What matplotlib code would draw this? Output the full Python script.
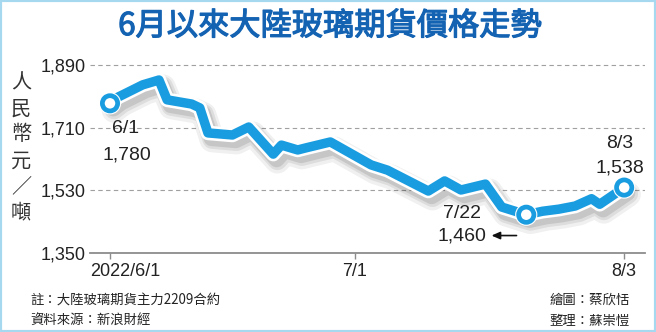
import matplotlib
matplotlib.use("Agg")
import matplotlib.pyplot as plt
import matplotlib.patheffects as pe
from matplotlib.patches import Rectangle
from matplotlib.transforms import offset_copy
import pandas as pd

plt.rcParams['font.family'] = ['Noto Sans CJK TC', 'DejaVu Sans']

# Daily price points of the glass futures main contract (RMB / ton)
dates = ["2022-06-01", "2022-06-02", "2022-06-05", "2022-06-07", "2022-06-08",
         "2022-06-11", "2022-06-12", "2022-06-13", "2022-06-16", "2022-06-18",
         "2022-06-21", "2022-06-22", "2022-06-24", "2022-06-25", "2022-06-28",
         "2022-07-03", "2022-07-05", "2022-07-10", "2022-07-12", "2022-07-14",
         "2022-07-17", "2022-07-19", "2022-07-22", "2022-07-24", "2022-07-26",
         "2022-07-28", "2022-07-30", "2022-07-31", "2022-08-03"]
prices = [1780, 1798, 1833, 1847, 1790,
          1778, 1767, 1695, 1689, 1712,
          1634, 1660, 1646, 1652, 1669,
          1603, 1588, 1528, 1557, 1531,
          1548, 1482, 1460, 1470, 1476,
          1485, 1506, 1490, 1538]

y_ticks = [1350, 1530, 1710, 1890]
x_tick_dates = ["2022-06-01", "2022-07-01", "2022-08-03"]
x_tick_labels = ["2022/6/1", "7/1", "8/3"]

# highlighted points: (date, date label)
highlights = [("2022-06-01", "6/1"), ("2022-07-22", "7/22"), ("2022-08-03", "8/3")]

title = "6月以來大陸玻璃期貨價格走勢"
y_label = "人\n民\n幣\n元\n／\n噸"
note_left = ["註：大陸玻璃期貨主力2209合約", "資料來源：新浪財經"]
note_right = ["繪圖：蔡欣恬", "整理：蘇崇愷"]

LINE = "#1a9de0"
TITLE_C = "#1463b3"
TEXT_C = "#222222"
NUM_FONT = ['Liberation Sans']

W, H = 656, 332
fig = plt.figure(figsize=(W / 100, H / 100), dpi=100)
fig.patch.set_facecolor("white")

ax = fig.add_axes([90 / W, 1 - 253 / H, (645 - 90) / W, (253 - 62) / H])

origin = pd.Timestamp("2022-06-01")
def to_day(d):
    return (pd.Timestamp(d) - origin).days

days = [to_day(d) for d in dates]
price_of = dict(zip(dates, prices))

ax.set_xlim(-2.45, 65.55)
ax.set_ylim(1350, 1898.7)

# grid and axes
ax.set_yticks(y_ticks)
ax.set_yticklabels([f"{v:,}" for v in y_ticks], fontsize=13, color=TEXT_C,
                   family=NUM_FONT)
ax.tick_params(axis='y', length=0, pad=3)
ax.grid(axis='y', linestyle=(0, (4, 3)), color='#a0a0a0', linewidth=0.8)
ax.set_axisbelow(True)
for s in ("top", "right", "left"):
    ax.spines[s].set_visible(False)
ax.spines["bottom"].set_color("#8c8c8c")
ax.spines["bottom"].set_linewidth(1.3)

ax.set_xticks([to_day(d) for d in x_tick_dates])
ax.set_xticklabels([])
ax.tick_params(axis='x', length=4, width=1, color="#8c8c8c", direction='out')
x_shift = [11, 0, 0]
for d, lab, dx in zip(x_tick_dates, x_tick_labels, x_shift):
    ax.annotate(lab, xy=(to_day(d), 0), xycoords=('data', 'axes fraction'),
                xytext=(dx, -13.5), textcoords='offset points',
                ha='center', va='center', fontsize=13, color=TEXT_C,
                family=NUM_FONT)

# price line with white halo and soft shadow
effects = [
    pe.SimpleLineShadow(offset=(3, -5), shadow_color='k', alpha=0.06, linewidth=18),
    pe.SimpleLineShadow(offset=(3, -4.5), shadow_color='k', alpha=0.08, linewidth=14),
    pe.SimpleLineShadow(offset=(2.5, -4), shadow_color='k', alpha=0.10, linewidth=11),
    pe.Stroke(linewidth=10.5, foreground='white'),
    pe.Normal(),
]
ax.plot(days, prices, color=LINE, linewidth=6.8, solid_joinstyle='round',
        solid_capstyle='round', path_effects=effects, clip_on=False, zorder=3)

hx = [to_day(d) for d, _ in highlights]
hy = [price_of[d] for d, _ in highlights]
ax.plot(hx, hy, linestyle='none', marker='o', markersize=11,
        markerfacecolor='white', markeredgecolor=LINE, markeredgewidth=3.4,
        path_effects=[pe.Stroke(linewidth=5, foreground='white'), pe.Normal()],
        clip_on=False, zorder=4)

# point labels (offsets in points from each highlighted point)
label_offsets = {
    "6/1": [(11, -18), (12, -37)],
    "7/22": [(-46, 1), (-46, -15)],
    "8/3": [(-3, 32), (-3, 14)],
}
for d, lab in highlights:
    v = price_of[d]
    (dx1, dy1), (dx2, dy2) = label_offsets[lab]
    ax.annotate(lab, xy=(to_day(d), v), xytext=(dx1, dy1), textcoords='offset points',
                ha='center', va='center', fontsize=14, color=TEXT_C,
                family=NUM_FONT, zorder=5)
    ax.annotate(f"{v:,}", xy=(to_day(d), v), xytext=(dx2, dy2), textcoords='offset points',
                ha='center', va='center', fontsize=14, color=TEXT_C,
                family=NUM_FONT, zorder=5)

# arrow from the low point toward its value label
low_d = highlights[1][0]
low_x, low_v = to_day(low_d), price_of[low_d]
head_t = offset_copy(ax.transData, fig=fig, x=-25, y=-15, units='points')
tail_t = offset_copy(ax.transData, fig=fig, x=-7, y=-15, units='points')
ax.annotate("", xy=(low_x, low_v), xycoords=head_t,
            xytext=(low_x, low_v), textcoords=tail_t, zorder=5,
            arrowprops=dict(arrowstyle='-|>,head_length=0.5,head_width=0.22',
                            color='#111111', lw=1.2, shrinkA=0, shrinkB=0))

# titles and notes
fig.text(330 / W, 1 - 26 / H, title, ha='center', va='center', fontsize=22.5,
         color=TITLE_C,
         path_effects=[pe.Stroke(linewidth=0.9, foreground=TITLE_C), pe.Normal()])
fig.text(21 / W, 1 - 148 / H, y_label, ha='center', va='center', fontsize=14.5,
         color='#333333', linespacing=1.32)
for i, t in enumerate(note_left):
    fig.text(30 / W, 1 - (300 + 21 * i) / H, t, ha='left', va='center',
             fontsize=9.6, color=TEXT_C)
for i, t in enumerate(note_right):
    fig.text(630 / W, 1 - (300 + 21 * i) / H, t, ha='right', va='center',
             fontsize=9.6, color=TEXT_C)

fig.patches.append(Rectangle((0, 0), 1, 1, transform=fig.transFigure, fill=False,
                             edgecolor='#a6d9ef', linewidth=3, zorder=10))

fig.savefig("out.png", dpi=100, facecolor='white')
